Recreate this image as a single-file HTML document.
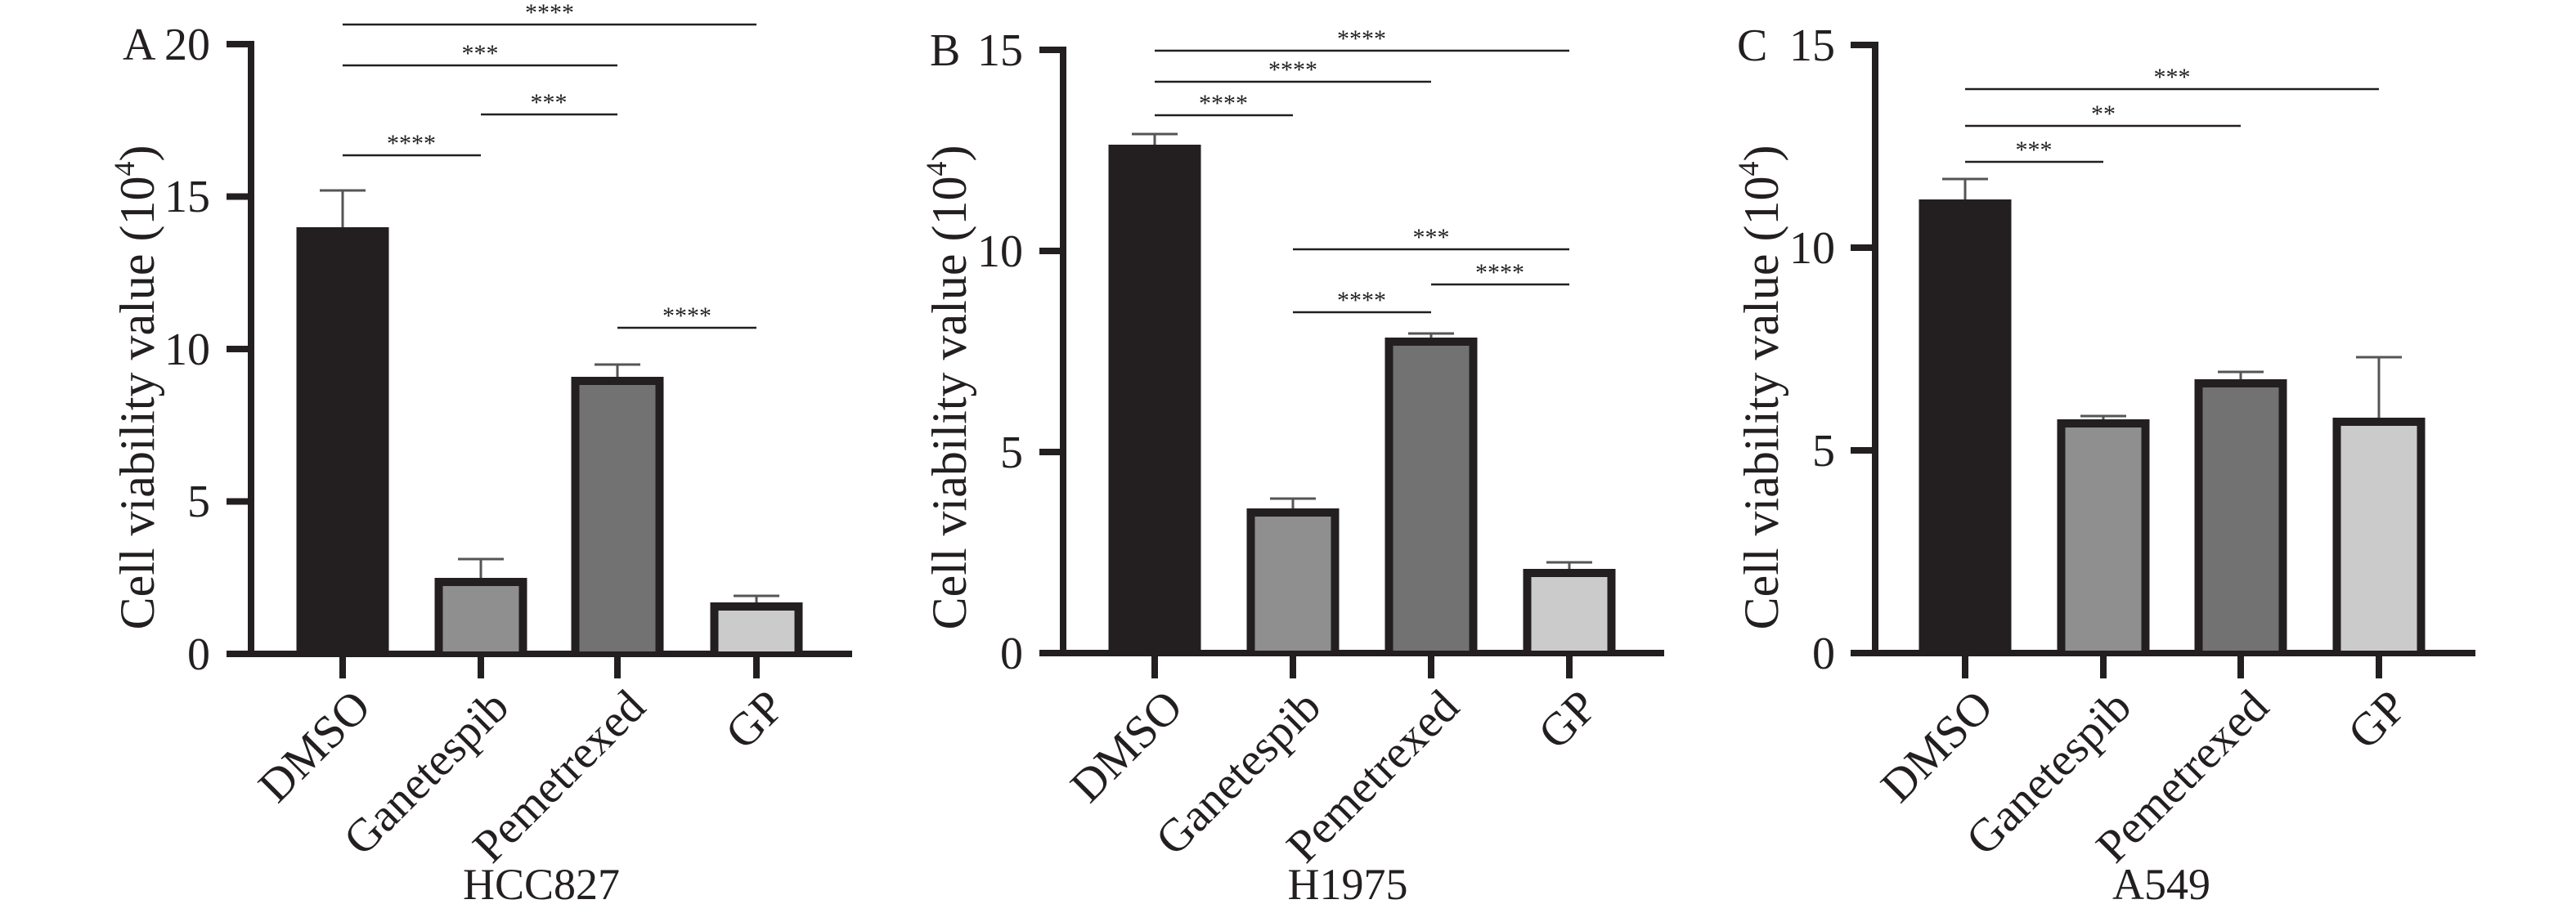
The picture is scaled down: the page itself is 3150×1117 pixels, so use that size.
<!DOCTYPE html>
<html><head><meta charset="utf-8"><style>
html,body{margin:0;padding:0;background:#fff;}
svg{display:block;font-family:"Liberation Serif",serif;}
</style></head><body>
<svg width="3150" height="1117" viewBox="0 0 3150 1117" xmlns="http://www.w3.org/2000/svg" fill="#231f20">
<!-- ===== Panel A ===== -->
<g stroke="#231f20" stroke-width="8">
<line x1="307" y1="50" x2="307" y2="804"/>
<line x1="277" y1="800" x2="1042" y2="800"/>
<line x1="277" y1="800" x2="307" y2="800"/><line x1="277" y1="613.5" x2="307" y2="613.5"/><line x1="277" y1="427" x2="307" y2="427"/><line x1="277" y1="240.5" x2="307" y2="240.5"/><line x1="277" y1="54" x2="307" y2="54"/>
<line x1="419" y1="800" x2="419" y2="830"/><line x1="588" y1="800" x2="588" y2="830"/><line x1="755" y1="800" x2="755" y2="830"/><line x1="925" y1="800" x2="925" y2="830"/>
</g>
<g stroke="#555" stroke-width="3">
<line x1="419" y1="278" x2="419" y2="233"/><line x1="391" y1="233" x2="447" y2="233"/>
<line x1="588" y1="707" x2="588" y2="684"/><line x1="560" y1="684" x2="616" y2="684"/>
<line x1="755" y1="461" x2="755" y2="446"/><line x1="727" y1="446" x2="783" y2="446"/>
<line x1="925" y1="737" x2="925" y2="729"/><line x1="897" y1="729" x2="953" y2="729"/>
</g>
<rect x="362.5" y="278" width="113" height="522" fill="#231f20"/>
<rect x="531.5" y="707" width="113" height="93" fill="#231f20"/><rect x="541.5" y="717" width="93" height="80" fill="#8f8f8f"/>
<rect x="698.5" y="461" width="113" height="339" fill="#231f20"/><rect x="708.5" y="471" width="93" height="326" fill="#727272"/>
<rect x="868.5" y="737" width="113" height="63" fill="#231f20"/><rect x="878.5" y="747" width="93" height="50" fill="#cbcbcb"/>
<g stroke="#231f20" stroke-width="2.5">
<line x1="419" y1="30" x2="925" y2="30"/><line x1="419" y1="80" x2="755" y2="80"/><line x1="588" y1="140" x2="755" y2="140"/><line x1="419" y1="190" x2="588" y2="190"/><line x1="755" y1="401" x2="925" y2="401"/>
</g>
<g font-size="30" text-anchor="middle">
<text x="672" y="25">****</text><text x="587" y="75">***</text><text x="671" y="135">***</text><text x="503" y="185">****</text><text x="840" y="396">****</text>
</g>
<g font-size="56" text-anchor="end">
<text x="257" y="819">0</text><text x="257" y="632">5</text><text x="257" y="446">10</text><text x="257" y="259">15</text><text x="257" y="73">20</text>
</g>
<text x="150" y="73" font-size="56">A</text>
<text transform="translate(188,474) rotate(-90)" font-size="60" text-anchor="middle">Cell viability value (10<tspan font-size="36" dy="-24">4</tspan><tspan dy="24">)</tspan></text>
<g font-size="57" text-anchor="end">
<text transform="translate(456,868) rotate(-45)">DMSO</text>
<text transform="translate(625,868) rotate(-45)">Ganetespib</text>
<text transform="translate(792,868) rotate(-45)">Pemetrexed</text>
<text transform="translate(962,868) rotate(-45)">GP</text>
</g>
<text x="662" y="1100" font-size="54" text-anchor="middle">HCC827</text>

<!-- ===== Panel B ===== -->
<g stroke="#231f20" stroke-width="8">
<line x1="1300" y1="57" x2="1300" y2="803"/>
<line x1="1271" y1="799" x2="2035" y2="799"/>
<line x1="1271" y1="553" x2="1300" y2="553"/><line x1="1271" y1="307" x2="1300" y2="307"/><line x1="1271" y1="61" x2="1300" y2="61"/>
<line x1="1412" y1="799" x2="1412" y2="830"/><line x1="1581" y1="799" x2="1581" y2="830"/><line x1="1750" y1="799" x2="1750" y2="830"/><line x1="1919" y1="799" x2="1919" y2="830"/>
</g>
<g stroke="#555" stroke-width="3">
<line x1="1412" y1="177" x2="1412" y2="164"/><line x1="1384" y1="164" x2="1440" y2="164"/>
<line x1="1581" y1="622" x2="1581" y2="610"/><line x1="1553" y1="610" x2="1609" y2="610"/>
<line x1="1750" y1="413" x2="1750" y2="408"/><line x1="1722" y1="408" x2="1778" y2="408"/>
<line x1="1919" y1="696" x2="1919" y2="688"/><line x1="1891" y1="688" x2="1947" y2="688"/>
</g>
<rect x="1355.5" y="177" width="113" height="622" fill="#231f20"/>
<rect x="1524.5" y="622" width="113" height="177" fill="#231f20"/><rect x="1534.5" y="632" width="93" height="164" fill="#8f8f8f"/>
<rect x="1693.5" y="413" width="113" height="386" fill="#231f20"/><rect x="1703.5" y="423" width="93" height="373" fill="#727272"/>
<rect x="1862.5" y="696" width="113" height="103" fill="#231f20"/><rect x="1872.5" y="706" width="93" height="90" fill="#cbcbcb"/>
<g stroke="#231f20" stroke-width="2.5">
<line x1="1412" y1="62" x2="1919" y2="62"/><line x1="1412" y1="100" x2="1750" y2="100"/><line x1="1412" y1="141" x2="1581" y2="141"/><line x1="1581" y1="305" x2="1919" y2="305"/><line x1="1750" y1="348" x2="1919" y2="348"/><line x1="1581" y1="382" x2="1750" y2="382"/>
</g>
<g font-size="30" text-anchor="middle">
<text x="1665" y="57">****</text><text x="1581" y="95">****</text><text x="1496" y="136">****</text><text x="1750" y="300">***</text><text x="1834" y="343">****</text><text x="1665" y="377">****</text>
</g>
<g font-size="56" text-anchor="end">
<text x="1251" y="818">0</text><text x="1251" y="572">5</text><text x="1251" y="326">10</text><text x="1251" y="80">15</text>
</g>
<text x="1137" y="80" font-size="56">B</text>
<text transform="translate(1181,474) rotate(-90)" font-size="60" text-anchor="middle">Cell viability value (10<tspan font-size="36" dy="-24">4</tspan><tspan dy="24">)</tspan></text>
<g font-size="57" text-anchor="end">
<text transform="translate(1449,868) rotate(-45)">DMSO</text>
<text transform="translate(1618,868) rotate(-45)">Ganetespib</text>
<text transform="translate(1787,868) rotate(-45)">Pemetrexed</text>
<text transform="translate(1956,868) rotate(-45)">GP</text>
</g>
<text x="1648" y="1100" font-size="54" text-anchor="middle">H1975</text>

<!-- ===== Panel C ===== -->
<g stroke="#231f20" stroke-width="8">
<line x1="2293" y1="51" x2="2293" y2="803"/>
<line x1="2263" y1="799" x2="3027" y2="799"/>
<line x1="2263" y1="551" x2="2293" y2="551"/><line x1="2263" y1="303" x2="2293" y2="303"/><line x1="2263" y1="55" x2="2293" y2="55"/>
<line x1="2403" y1="799" x2="2403" y2="830"/><line x1="2572" y1="799" x2="2572" y2="830"/><line x1="2740" y1="799" x2="2740" y2="830"/><line x1="2909" y1="799" x2="2909" y2="830"/>
</g>
<g stroke="#555" stroke-width="3">
<line x1="2403" y1="244" x2="2403" y2="219"/><line x1="2375" y1="219" x2="2431" y2="219"/>
<line x1="2572" y1="513" x2="2572" y2="509"/><line x1="2544" y1="509" x2="2600" y2="509"/>
<line x1="2740" y1="464" x2="2740" y2="455"/><line x1="2712" y1="455" x2="2768" y2="455"/>
<line x1="2909" y1="511" x2="2909" y2="437"/><line x1="2881" y1="437" x2="2937" y2="437"/>
</g>
<rect x="2346.5" y="244" width="113" height="555" fill="#231f20"/>
<rect x="2515.5" y="513" width="113" height="286" fill="#231f20"/><rect x="2525.5" y="523" width="93" height="273" fill="#8f8f8f"/>
<rect x="2683.5" y="464" width="113" height="335" fill="#231f20"/><rect x="2693.5" y="474" width="93" height="322" fill="#727272"/>
<rect x="2852.5" y="511" width="113" height="288" fill="#231f20"/><rect x="2862.5" y="521" width="93" height="275" fill="#cbcbcb"/>
<g stroke="#231f20" stroke-width="2.5">
<line x1="2403" y1="109" x2="2909" y2="109"/><line x1="2403" y1="154" x2="2740" y2="154"/><line x1="2403" y1="198" x2="2572" y2="198"/>
</g>
<g font-size="30" text-anchor="middle">
<text x="2656" y="104">***</text><text x="2572" y="149">**</text><text x="2487" y="193">***</text>
</g>
<g font-size="56" text-anchor="end">
<text x="2244" y="818">0</text><text x="2244" y="570">5</text><text x="2244" y="322">10</text><text x="2244" y="74">15</text>
</g>
<text x="2124" y="74" font-size="56">C</text>
<text transform="translate(2174,474) rotate(-90)" font-size="60" text-anchor="middle">Cell viability value (10<tspan font-size="36" dy="-24">4</tspan><tspan dy="24">)</tspan></text>
<g font-size="57" text-anchor="end">
<text transform="translate(2440,868) rotate(-45)">DMSO</text>
<text transform="translate(2609,868) rotate(-45)">Ganetespib</text>
<text transform="translate(2777,868) rotate(-45)">Pemetrexed</text>
<text transform="translate(2946,868) rotate(-45)">GP</text>
</g>
<text x="2643" y="1100" font-size="54" text-anchor="middle">A549</text>
</svg>
</body></html>
